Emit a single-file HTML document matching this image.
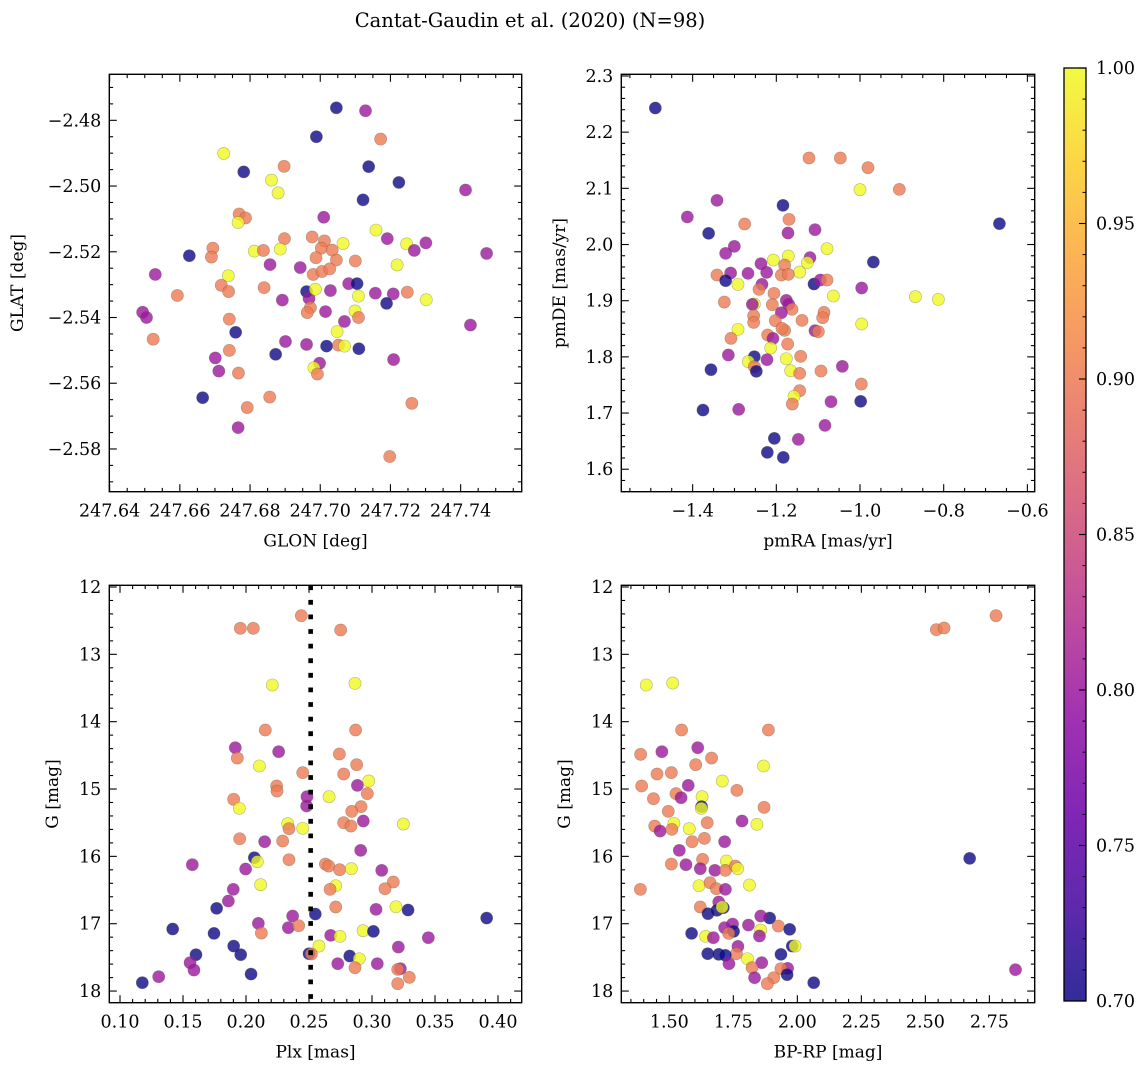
<!DOCTYPE html>
<html><head><meta charset="utf-8">
<style>
html,body{margin:0;padding:0;background:#fff;}
svg text{font-family:"DejaVu Serif","Liberation Serif",serif;fill:#000;}
</style></head>
<body>
<svg id="fig" width="1148" height="1068" viewBox="0 0 1148 1068" xmlns="http://www.w3.org/2000/svg">
<rect width="1148" height="1068" fill="#fff"/>
<text x="530" y="27" font-size="19.5" text-anchor="middle">Cantat-Gaudin et al. (2020) (N=98)</text>
<defs>
<linearGradient id="plasma" x1="0" y1="1" x2="0" y2="0">
<stop offset="0" stop-color="#0d0887"/><stop offset="0.1" stop-color="#41049d"/><stop offset="0.2" stop-color="#6a00a8"/><stop offset="0.3" stop-color="#8f0da4"/><stop offset="0.4" stop-color="#b12a90"/><stop offset="0.5" stop-color="#cc4778"/><stop offset="0.6" stop-color="#e16462"/><stop offset="0.7" stop-color="#f2844b"/><stop offset="0.8" stop-color="#fca636"/><stop offset="0.9" stop-color="#fcce25"/><stop offset="1" stop-color="#f0f921"/>
</linearGradient>
</defs>
</svg>
<script>
// ---------- Panel 1: GLON / GLAT ----------
const glon=[247.7046,247.7129,247.7172,247.6989,247.6725,247.6782,247.6897,247.6861,247.6880,247.7138,247.7224,247.7414,247.7122,247.6769,247.6787,247.6766,247.7010,247.7159,247.7191,247.7246,247.7301,247.7268,247.7474,247.7219,247.6898,247.6977,247.7012,247.7065,247.7003,247.7034,247.6988,247.7046,247.7100,247.6627,247.6694,247.6690,247.6812,247.6838,247.6886,247.6857,247.6943,247.6980,247.7005,247.7027,247.6530,247.6738,247.6718,247.6739,247.6593,247.6840,247.6892,247.6961,247.6968,247.6986,247.7029,247.7081,247.7105,247.7109,247.7157,247.7208,247.7248,247.7302,247.7189,247.6972,247.6963,247.7015,247.7099,247.7109,247.7069,247.6494,247.6505,247.7428,247.6524,247.6741,247.6759,247.7048,247.6901,247.6961,247.7018,247.7052,247.7069,247.7110,247.6741,247.6701,247.6873,247.6998,247.6982,247.6992,247.7209,247.6711,247.6767,247.6665,247.6856,247.6792,247.7261,247.6766,247.7198];
const glat=[-2.4762,-2.4771,-2.4857,-2.4850,-2.4901,-2.4957,-2.4940,-2.4982,-2.5021,-2.4941,-2.4989,-2.5012,-2.5042,-2.5085,-2.5097,-2.5111,-2.5095,-2.5134,-2.5160,-2.5176,-2.5173,-2.5196,-2.5205,-2.5240,-2.5160,-2.5155,-2.5167,-2.5175,-2.5189,-2.5195,-2.5218,-2.5225,-2.5228,-2.5212,-2.5189,-2.5216,-2.5198,-2.5196,-2.5192,-2.5239,-2.5248,-2.5269,-2.5260,-2.5252,-2.5269,-2.5273,-2.5302,-2.5321,-2.5333,-2.5309,-2.5347,-2.5321,-2.5342,-2.5314,-2.5318,-2.5297,-2.5297,-2.5335,-2.5326,-2.5328,-2.5323,-2.5346,-2.5357,-2.5370,-2.5385,-2.5382,-2.5380,-2.5400,-2.5412,-2.5384,-2.5400,-2.5423,-2.5466,-2.5405,-2.5445,-2.5443,-2.5473,-2.5482,-2.5487,-2.5484,-2.5487,-2.5495,-2.5500,-2.5523,-2.5512,-2.5539,-2.5553,-2.5572,-2.5528,-2.5563,-2.5569,-2.5644,-2.5642,-2.5674,-2.5661,-2.5735,-2.5823];
const prob1=[.7,.8,.9,.7,1,.7,.9,1,1,.7, .7,.8,.7,.9,.9,1,.8,1,.8,1, .8,.8,.8,1,.9,.9,.9,1,.9,.9, .9,.9,.9,.7,.9,.9,1,.9,1,.8, .8,.9,.9,.9,.8,1,.9,.9,.9,.9, .8,.7,.8,1,.8,.8,.7,1,.8,.8, .9,1,.7,.9,.9,.8,1,.9,.8,.8, .8,.8,.9,.9,.7,1,.8,.8,.7,.9, 1,.7,.9,.8,.7,.8,1,.9,.8,.8, .9,.7,.9,.9,.9,.8,.9];
const ticks1x=[247.64,247.66,247.68,247.70,247.72,247.74];
const ticks1y=[-2.48,-2.50,-2.52,-2.54,-2.56,-2.58];

// ---------- Panel 2: pmRA / pmDE ----------
const pmra=[-1.4892,-1.1219,-1.0470,-0.9809,-1.0,-0.9060,-0.6669,-1.3418,-1.1841,-1.4127,-1.2757,-1.1697,-1.1721,-1.1076,-1.3618,-1.3004,-1.3211,-1.0789,-0.9681,-1.2072,-1.1713,-1.1195,-1.1259,-1.2367,-1.2231,-1.1801,-1.1442,-1.3418,-1.3092,-1.2677,-1.1880,-1.1713,-1.3211,-1.2916,-1.1100,-1.0948,-1.0789,-0.9960,-1.2343,-1.2414,-1.2056,-1.0637,-0.8677,-0.8127,-1.3243,-1.2526,-1.2574,-1.2096,-1.1761,-1.1705,-1.1625,-1.1880,-1.2542,-1.2542,-1.2024,-1.1386,-1.0861,-1.0892,-0.9960,-1.2916,-1.3084,-1.2207,-1.2080,-1.1801,-1.1865,-1.1076,-1.0996,-1.1729,-1.2135,-1.3147,-1.2526,-1.2223,-1.2669,-1.1761,-1.1418,-1.2526,-1.2478,-1.3562,-1.1657,-1.1442,-1.0932,-1.0422,-0.9968,-1.1442,-1.1578,-1.1618,-1.0693,-0.9984,-1.3753,-1.2900,-1.0837,-1.2048,-1.1474,-1.2215,-1.1833];
const pmde=[2.2430,2.154,2.154,2.1368,2.0976,2.0982,2.0371,2.0786,2.0697,2.049,2.0365,2.0448,2.0205,2.0264,2.0199,1.9967,1.9843,1.9926,1.9688,1.9724,1.9795,1.9766,1.9677,1.9659,1.9504,1.9635,1.9510,1.9457,1.9493,1.9487,1.9457,1.9469,1.9356,1.9291,1.9297,1.9368,1.9368,1.9226,1.9291,1.9202,1.9131,1.9083,1.9071,1.9024,1.8976,1.8941,1.8935,1.8929,1.9006,1.8935,1.8846,1.8786,1.8733,1.8614,1.8644,1.8650,1.8792,1.8697,1.8585,1.8490,1.8329,1.8389,1.8329,1.8472,1.8507,1.8466,1.8448,1.8228,1.8157,1.8033,1.8003,1.7950,1.7914,1.7967,1.8009,1.7825,1.7742,1.7772,1.7754,1.7706,1.7748,1.7831,1.7516,1.7398,1.7297,1.7160,1.7202,1.7208,1.7053,1.7065,1.6780,1.6549,1.6531,1.6300,1.6211];
const prob2=[.7,.9,.9,.9,1,.9,.7,.8,.7,.8, .9,.9,.8,.8,.7,.8,.8,1,.7,1, 1,.8,1,.8,.8,.9,1,.9,.8,.8, .9,.9,.7,1,.7,.8,.9,.8,.8,.9, .9,1,1,1,.9,1,.8,.9,.8,.8, .9,.8,.9,.9,.9,.9,.9,.9,1,1, .9,.9,.8,.9,.9,.8,.9,.9,1,.8, .7,.8,1,1,.9,.9,.7,.7,1,.9, .9,.8,.9,.9,1,.9,.8,.7,.7,.8, .8,.7,.8,.7,.7];
const ticks2x=[-1.4,-1.2,-1.0,-0.8,-0.6];
const ticks2y=[1.6,1.7,1.8,1.9,2.0,2.1,2.2,2.3];

// ---------- Panel 3: Plx / G ----------
const plx=[0.2439,0.1955,0.2058,0.2751,0.2209,0.2865,0.2153,0.2870,0.1915,0.2259,0.1931,0.2741,0.2878,0.2106,0.2450,0.2775,0.2974,0.2884,0.2243,0.2246,0.2963,0.2484,0.2659,0.1902,0.1947,0.2481,0.2913,0.2839,0.2775,0.2833,0.2931,0.3249,0.2331,0.2341,0.2450,0.1950,0.2148,0.2291,0.2910,0.2341,0.2066,0.2090,0.1574,0.1997,0.2630,0.2656,0.2743,0.2836,0.3077,0.3169,0.3103,0.2116,0.2712,0.2667,0.1899,0.1860,0.2712,0.3190,0.1767,0.3032,0.3286,0.2550,0.2370,0.3910,0.2098,0.2336,0.2418,0.2122,0.1418,0.1746,0.2672,0.2746,0.2929,0.3011,0.3447,0.1902,0.1958,0.1603,0.2579,0.2500,0.2519,0.2823,0.2899,0.3209,0.1556,0.1587,0.2728,0.2865,0.3042,0.3225,0.3204,0.3296,0.3204,0.2040,0.1307,0.1177];
const gmag3=[12.426,12.614,12.614,12.639,13.455,13.431,14.124,14.124,14.386,14.446,14.540,14.480,14.639,14.658,14.757,14.777,14.881,14.946,14.955,15.030,15.069,15.114,15.114,15.153,15.287,15.252,15.262,15.332,15.500,15.550,15.475,15.520,15.515,15.589,15.584,15.738,15.782,15.772,15.911,16.050,16.020,16.079,16.124,16.188,16.114,16.144,16.198,16.183,16.208,16.381,16.480,16.421,16.436,16.490,16.490,16.663,16.752,16.748,16.772,16.787,16.797,16.856,16.886,16.916,16.995,17.059,17.030,17.139,17.079,17.144,17.173,17.188,17.104,17.114,17.208,17.332,17.460,17.460,17.332,17.446,17.450,17.480,17.520,17.347,17.579,17.688,17.594,17.653,17.594,17.668,17.678,17.797,17.891,17.748,17.787,17.876];
const prob3=[.9,.9,.9,.9,1,1,.9,.9,.8,.8, .9,.9,.9,1,.9,.9,1,.8,.9,.9, .9,.8,1,.9,1,.8,.9,.9,.9,.9, .8,1,1,.9,1,.9,.8,.9,.8,.9, .7,1,.8,.8,.9,.9,.9,1,.8,.9, .9,1,1,.9,.8,.8,.9,1,.7,.8, .7,.7,.8,.7,.8,.8,.9,.9,.7,.7, .8,1,1,.7,.8,.7,.7,.7,1,.7, .9,.7,1,.8,.8,.8,.8,.9,.8,.8, .9,.9,.9,.7,.8,.7];
const clusterPlx=[0.2513];
const ticks3x=[0.10,0.15,0.20,0.25,0.30,0.35,0.40];
const ticks3y=[12,13,14,15,16,17,18];

// ---------- Panel 4: BP-RP / G ----------
const bprp=[2.776,2.543,2.573,1.410,1.513,1.548,1.887,1.388,1.471,1.611,1.665,1.603,1.868,1.452,1.508,1.707,1.392,1.574,1.764,1.526,1.546,1.628,1.438,1.626,1.625,1.870,1.496,1.784,1.842,1.518,1.648,1.443,1.464,1.510,1.578,1.637,1.589,1.716,1.539,2.673,1.630,1.723,1.508,1.565,1.621,1.678,1.719,1.758,1.767,1.387,1.616,1.659,1.684,1.719,1.813,1.693,1.621,1.651,1.686,1.711,1.706,1.892,1.857,1.809,1.747,1.716,1.751,1.732,1.926,1.970,1.857,1.852,1.587,1.642,1.672,1.980,1.991,1.768,1.762,1.650,1.693,1.719,1.936,1.805,1.733,1.861,1.823,1.962,1.936,1.960,1.908,1.833,1.883,2.064,2.852];
const gmag4=[12.426,12.634,12.609,13.455,13.426,14.124,14.124,14.485,14.446,14.386,14.540,14.639,14.658,14.777,14.757,14.881,14.955,14.946,15.020,15.069,15.129,15.114,15.144,15.262,15.287,15.272,15.332,15.475,15.525,15.510,15.500,15.550,15.624,15.599,15.589,15.733,15.782,15.782,15.911,16.030,16.045,16.069,16.114,16.124,16.183,16.208,16.208,16.144,16.183,16.490,16.436,16.391,16.480,16.490,16.426,16.678,16.752,16.851,16.802,16.762,16.752,16.916,16.886,17.020,17.005,17.059,17.114,17.144,17.035,17.084,17.094,17.183,17.144,17.188,17.208,17.332,17.332,17.337,17.446,17.446,17.455,17.470,17.455,17.520,17.594,17.579,17.653,17.663,17.668,17.757,17.802,17.802,17.891,17.876,17.683];
const prob4=[.9,.9,.9,1,1,.9,.9,.9,.8,.8, .9,.9,1,.9,.9,1,.9,.8,.9,.9, .8,1,.9,.7,1,.9,.9,.8,1,1, .9,.9,.8,.9,1,.9,.9,.8,.8,.7, .9,1,.9,.8,.8,.8,.9,.9,1,.9, 1,.9,.9,.8,1,.8,.9,.7,.7,.7, 1,.7,.8,.8,.8,.8,.7,.9,.9,.7, 1,.8,.7,1,.8,.7,1,.8,.9,.7, .7,.7,.7,1,.8,.8,.9,.8,.9,.7, .9,.8,.9,.7,.8];
const ticks4x=[1.50,1.75,2.00,2.25,2.50,2.75];
const ticks4y=[12,13,14,15,16,17,18];

// ---------- Colorbar ----------
const cbarTicks=[0.70,0.75,0.80,0.85,0.90,0.95,1.00];
const cbarMin=0.70, cbarMax=1.00;

const NS="http://www.w3.org/2000/svg";
const svg=document.getElementById('fig');
const FS=17.5;
function mk(tag,attrs,parent){const e=document.createElementNS(NS,tag);for(const k in attrs)e.setAttribute(k,attrs[k]);(parent||svg).appendChild(e);return e;}
const stops=[[13,8,135],[65,4,157],[106,0,168],[143,13,164],[177,42,144],[204,71,120],[225,100,98],[242,132,75],[252,166,54],[252,206,37],[240,249,33]];
function plasma(v){let t=(v-cbarMin)/(cbarMax-cbarMin);t=Math.max(0,Math.min(1,t))*10;const i=Math.min(9,Math.floor(t));const f=t-i;const a=stops[i],b=stops[i+1];return 'rgb('+[0,1,2].map(k=>Math.round(a[k]+(b[k]-a[k])*f)).join(',')+')';}
function fmtNum(v,d){const s=Math.abs(v).toFixed(d);return (v<-1e-9?'\u2212':'')+s;}

function panel(cfg){
  const g=mk('g',{});
  
  
  const L=cfg.box[0],T=cfg.box[1],R=cfg.box[2],B=cfg.box[3];
  const sx=v=>L+(v-cfg.xd[0])/(cfg.xd[1]-cfg.xd[0])*(R-L);
  const sy=v=>B-(v-cfg.yd[0])/(cfg.yd[1]-cfg.yd[0])*(B-T);
  const clipId='clip-'+cfg.name;
  const cp=mk('clipPath',{id:clipId},g);mk('rect',{x:L,y:T,width:R-L,height:B-T},cp);
  const pg=mk('g',{'clip-path':'url(#'+clipId+')'},g);
  
  
  const n=Math.min(cfg.xs.length,cfg.ys.length,cfg.ps.length);
  for(let i=0;i<n;i++){
    const c=mk('circle',{cx:sx(cfg.xs[i]).toFixed(2),cy:sy(cfg.ys[i]).toFixed(2),r:6.1,fill:plasma(cfg.ps[i]),'fill-opacity':0.8,stroke:'rgba(90,90,60,0.45)','stroke-width':0.6},pg);
    
    
  }
  if(cfg.vline){
    for(const v of cfg.vline){
      const ln=mk('line',{x1:sx(v),x2:sx(v),y1:T,y2:B,stroke:'#000','stroke-width':4.6,'stroke-dasharray':'4.8 9.8'},g);
      
      
    }
  }
  const tg=mk('g',{stroke:'#000','stroke-width':1.1},g);
  
  
  function tickX(v,len){const x=sx(v);if(x<L-0.5||x>R+0.5)return;mk('line',{x1:x,x2:x,y1:B,y2:B-len},tg);mk('line',{x1:x,x2:x,y1:T,y2:T+len},tg);}
  function tickY(v,len){const y=sy(v);if(y<T-0.5||y>B+0.5)return;mk('line',{x1:L,x2:L+len,y1:y,y2:y},tg);mk('line',{x1:R,x2:R-len,y1:y,y2:y},tg);}
  const lo=Math.min(...cfg.xd),hi=Math.max(...cfg.xd);
  for(let k=Math.ceil(lo/cfg.xm-1e-6);k*cfg.xm<=hi+1e-9;k++){const v=k*cfg.xm;if(cfg.xt.some(t=>Math.abs(t-v)<cfg.xm/3))continue;tickX(v,3.8);}
  const ylo=Math.min(...cfg.yd),yhi=Math.max(...cfg.yd);
  for(let k=Math.ceil(ylo/cfg.ym-1e-6);k*cfg.ym<=yhi+1e-9;k++){const v=k*cfg.ym;if(cfg.yt.some(t=>Math.abs(t-v)<cfg.ym/3))continue;tickY(v,3.8);}
  for(const v of cfg.xt){tickX(v,7.5);
    const t=mk('text',{x:sx(v),y:B+25,'font-size':FS,'text-anchor':'middle'},g);t.textContent=fmtNum(v,cfg.xdp);
    
    }
  for(const v of cfg.yt){tickY(v,7.5);
    const t=mk('text',{x:L-8,y:sy(v)+6,'font-size':FS,'text-anchor':'end'},g);t.textContent=fmtNum(v,cfg.ydp);
    
    }
  const fr=mk('rect',{x:L,y:T,width:R-L,height:B-T,fill:'none',stroke:'#000','stroke-width':1.4},g);
  
  
  const xl=mk('text',{x:(L+R)/2,y:B+55,'font-size':17,'text-anchor':'middle'},g);xl.textContent=cfg.xlabel;
  
  
  const yl=mk('text',{x:0,y:0,'font-size':17,'text-anchor':'middle',transform:'translate('+cfg.ylx+','+((T+B)/2)+') rotate(-90)'},g);yl.textContent=cfg.ylabel;
  
  
}

panel({name:'glon-glat-panel',box:[109.3,74.3,521.7,491.7],xd:[247.6399,247.7574],yd:[-2.5930,-2.4660],xs:glon,ys:glat,ps:prob1,xt:ticks1x,yt:ticks1y,xm:0.005,ym:0.005,xdp:2,ydp:2,xlabel:'GLON [deg]',ylabel:'GLAT [deg]',ylx:23});
panel({name:'pm-panel',box:[621.3,74.3,1034.7,491.7],xd:[-1.5705,-0.5825],yd:[1.560,2.303],xs:pmra,ys:pmde,ps:prob2,xt:ticks2x,yt:ticks2y,xm:0.05,ym:0.02,xdp:1,ydp:1,xlabel:'pmRA [mas/yr]',ylabel:'pmDE [mas/yr]',ylx:565});
panel({name:'plx-g-panel',box:[109.3,585.3,521.7,1002.7],xd:[0.0915,0.4188],yd:[18.173,11.975],xs:plx,ys:gmag3,ps:prob3,xt:ticks3x,yt:ticks3y,xm:0.01,ym:0.2,xdp:2,ydp:0,xlabel:'Plx [mas]',ylabel:'G [mag]',ylx:58,vline:clusterPlx});
panel({name:'cmd-panel',box:[621.3,585.3,1034.7,1002.7],xd:[1.3125,2.927],yd:[18.173,11.975],xs:bprp,ys:gmag4,ps:prob4,xt:ticks4x,yt:ticks4y,xm:0.05,ym:0.2,xdp:2,ydp:0,xlabel:'BP-RP [mag]',ylabel:'G [mag]',ylx:570});

// colorbar
(function(){
  const L=1064,R=1086,T=68,B=1001;
  const cg=mk('g',{});
  
  
  mk('rect',{x:L,y:T,width:R-L,height:B-T,fill:'url(#plasma)','fill-opacity':0.85},cg);
  const sy=v=>B-(v-cbarMin)/(cbarMax-cbarMin)*(B-T);
  for(let k=70;k<=100;k++){const v=k/100;if(k%5===0)continue;mk('line',{x1:R,x2:R-3.5,y1:sy(v),y2:sy(v),stroke:'#000','stroke-width':1},cg);}
  for(const v of cbarTicks){
    mk('line',{x1:R,x2:R-7,y1:sy(v),y2:sy(v),stroke:'#000','stroke-width':1.1},cg);
    const t=mk('text',{x:R+10,y:sy(v)+6,'font-size':FS},cg);t.textContent=v.toFixed(2);
    
    
  }
  mk('rect',{x:L,y:T,width:R-L,height:B-T,fill:'none',stroke:'#000','stroke-width':1.3},cg);
})();
</script>
</body></html>
